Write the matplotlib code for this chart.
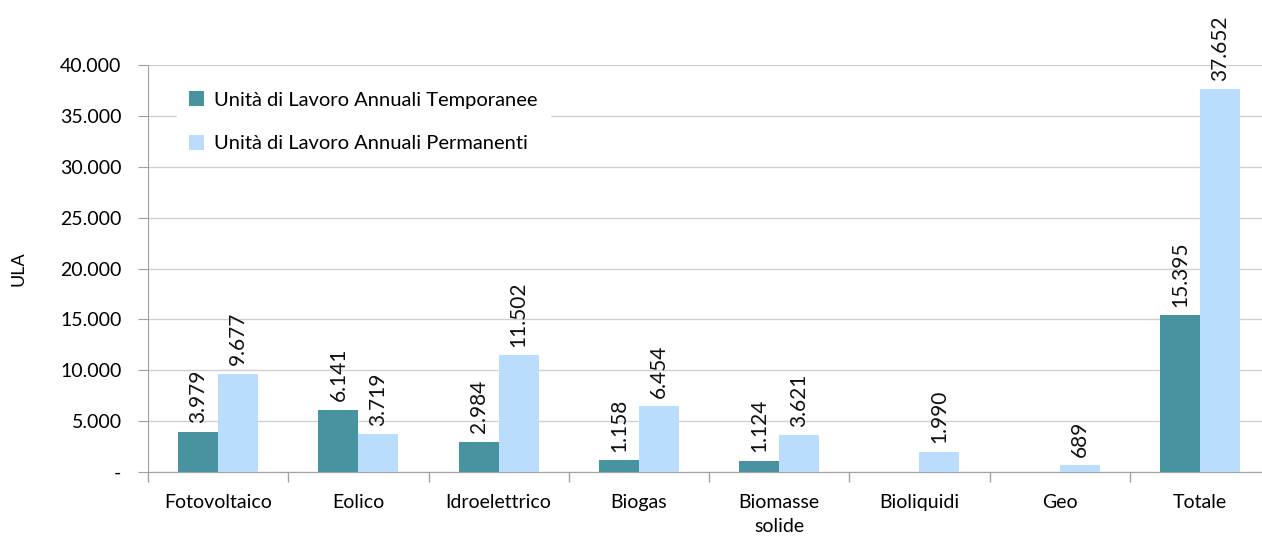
import numpy as np
import matplotlib.pyplot as plt
from matplotlib.ticker import FuncFormatter, FixedLocator

categorie = ["Fotovoltaico", "Eolico", "Idroelettrico", "Biogas",
             "Biomasse\nsolide", "Bioliquidi", "Geo", "Totale"]
ula_temporanee = [3979, 6141, 2984, 1158, 1124, 0, 0, 15395]
ula_permanenti = [9677, 3719, 11502, 6454, 3621, 1990, 689, 37652]
yticks = [0, 5000, 10000, 15000, 20000, 25000, 30000, 35000, 40000]

plt.rcParams['font.family'] = ['Lato', 'DejaVu Sans']

col_temp = '#4793A0'
col_perm = '#BADCFD'

def fmt_it(v):
    return f"{int(v):,}".replace(",", ".")

fig = plt.figure(figsize=(12.62, 5.38), dpi=100)
# axes right edge goes a bit past the figure, as in the original
ax = fig.add_axes([148/1262, 66/538, 1122/1262, 407/538])

x = np.arange(len(categorie))
w = 0.285
b1 = ax.bar(x - w/2, ula_temporanee, w, color=col_temp,
            label="Unità di Lavoro Annuali Temporanee", zorder=3)
b2 = ax.bar(x + w/2, ula_permanenti, w, color=col_perm,
            label="Unità di Lavoro Annuali Permanenti", zorder=3)

# rotated value labels above each bar (none for zero bars)
for bars, vals in ((b1, ula_temporanee), (b2, ula_permanenti)):
    for rect, v in zip(bars, vals):
        if v == 0:
            continue
        ax.annotate(fmt_it(v), (rect.get_x() + rect.get_width()/2, v),
                    xytext=(0, 6), textcoords='offset points',
                    rotation=90, ha='center', va='bottom',
                    fontsize=15, color='#111111')

ax.set_xlim(-0.5, len(categorie) - 0.5)
ax.set_ylim(0, 40000)
ax.set_yticks(yticks)
ax.yaxis.set_major_formatter(FuncFormatter(lambda v, p: "-" if v == 0 else fmt_it(v)))
ax.grid(axis='y', color='#D0D0D0', linewidth=1, zorder=0)

ax.set_xticks(x)
ax.set_xticklabels(categorie, linespacing=1.5)
ax.xaxis.set_minor_locator(FixedLocator(np.arange(-0.5, len(categorie), 1)))
ax.tick_params(axis='x', which='major', length=0, pad=16, labelsize=14)
ax.tick_params(axis='x', which='minor', length=7, color='#A0A0A0', width=1)
ax.tick_params(axis='y', length=7, color='#A0A0A0', labelsize=14, pad=12)

for s in ('top', 'right'):
    ax.spines[s].set_visible(False)
for s in ('left', 'bottom'):
    ax.spines[s].set_color('#A0A0A0')

ax.set_ylabel("ULA", fontsize=13)
ax.yaxis.set_label_coords(-0.108, 0.5)

leg = ax.legend(loc='upper left', bbox_to_anchor=(0.017, 0.99), frameon=True,
                fontsize=14.5, handlelength=0.75, handleheight=0.75,
                labelspacing=1.3, borderpad=0.6, handletextpad=0.5)
leg.get_frame().set_facecolor('white')
leg.get_frame().set_edgecolor('white')
leg.get_frame().set_alpha(1)
leg.set_zorder(5)

fig.savefig("out.png", dpi=100)
